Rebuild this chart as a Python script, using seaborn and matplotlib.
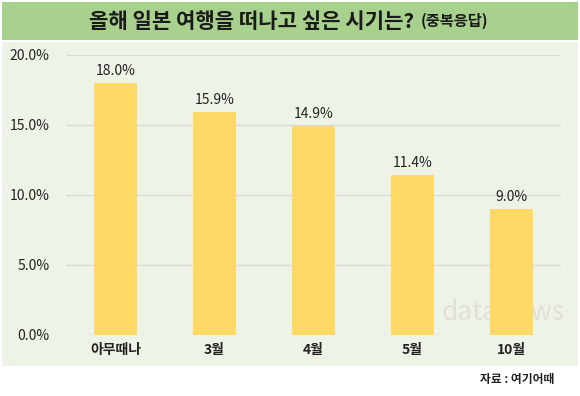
import pandas as pd
import seaborn as sns
import matplotlib.pyplot as plt
from matplotlib.patches import Rectangle
from matplotlib.ticker import FuncFormatter

categories = ["아무때나", "3월", "4월", "5월", "10월"]
values = [18.0, 15.9, 14.9, 11.4, 9.0]

TITLE = "올해 일본 여행을 떠나고 싶은 시기는?"
SUBTITLE = "(중복응답)"
SOURCE = "자료 : 여기어때"

BAR_COLOR = "#FFD966"
PANEL_BG = "#EEF3E7"
TITLE_BG = "#A9D18E"

sns.set_theme(style="white")
plt.rcParams["font.family"] = ["Noto Sans CJK KR", "DejaVu Sans"]

df = pd.DataFrame({"month": categories, "share": values})

fig = plt.figure(figsize=(5.8, 3.96), dpi=100)
fig.patch.set_facecolor("white")

# title band and light panel behind the axes
fig.add_artist(Rectangle((2 / 580, 1 - 40 / 396), 576 / 580, 38 / 396,
                         transform=fig.transFigure, facecolor=TITLE_BG, edgecolor="none", zorder=0))
fig.add_artist(Rectangle((2 / 580, 1 - 366 / 396), 576 / 580, 324 / 396,
                         transform=fig.transFigure, facecolor=PANEL_BG, edgecolor="none", zorder=0))

fig.text(414 / 580, 1 - 21 / 396, TITLE, ha="right", va="center", fontsize=15.2,
         fontweight="bold", color="#1a1a1a")
fig.text(421 / 580, 1 - 21 / 396, SUBTITLE, ha="left", va="center", fontsize=11,
         fontweight="bold", color="#1a1a1a")
fig.text(0.955, 1 - 380 / 396, SOURCE, ha="right", va="center", fontsize=8.5,
         fontweight="bold", color="#222222")

ax = fig.add_axes([66 / 580, 1 - 335 / 396, 495 / 580, 280 / 396])
ax.set_facecolor("none")

sns.barplot(data=df, x="month", y="share", color=BAR_COLOR, width=0.43,
            saturation=1, linewidth=0, ax=ax, zorder=3)

for i, v in enumerate(values):
    ax.text(i, v + 0.35, f"{v:.1f}%", ha="center", va="bottom", fontsize=10,
            color="#222222", zorder=4)

ax.set_ylim(0, 20)
ax.set_xlim(-0.5, 4.5)
ax.set_yticks([0, 5, 10, 15, 20])
ax.yaxis.set_major_formatter(FuncFormatter(lambda y, _: f"{y:.1f}%"))
ax.grid(axis="y", color="#D9D9D9", linewidth=1, zorder=0)
ax.set_xlabel("")
ax.set_ylabel("")
ax.tick_params(axis="y", labelsize=10, length=0, pad=12, colors="#222222")
ax.tick_params(axis="x", labelsize=10, length=0, pad=6, colors="#222222")
for lab in ax.get_xticklabels():
    lab.set_fontweight("bold")

for s in ax.spines.values():
    s.set_visible(False)

# faint watermark
ax.text(3.92, 1.6, "dataNews", fontsize=19, color="#D8D0CC", alpha=0.55,
        ha="center", va="center", zorder=2)

fig.savefig("out.png", dpi=100)
